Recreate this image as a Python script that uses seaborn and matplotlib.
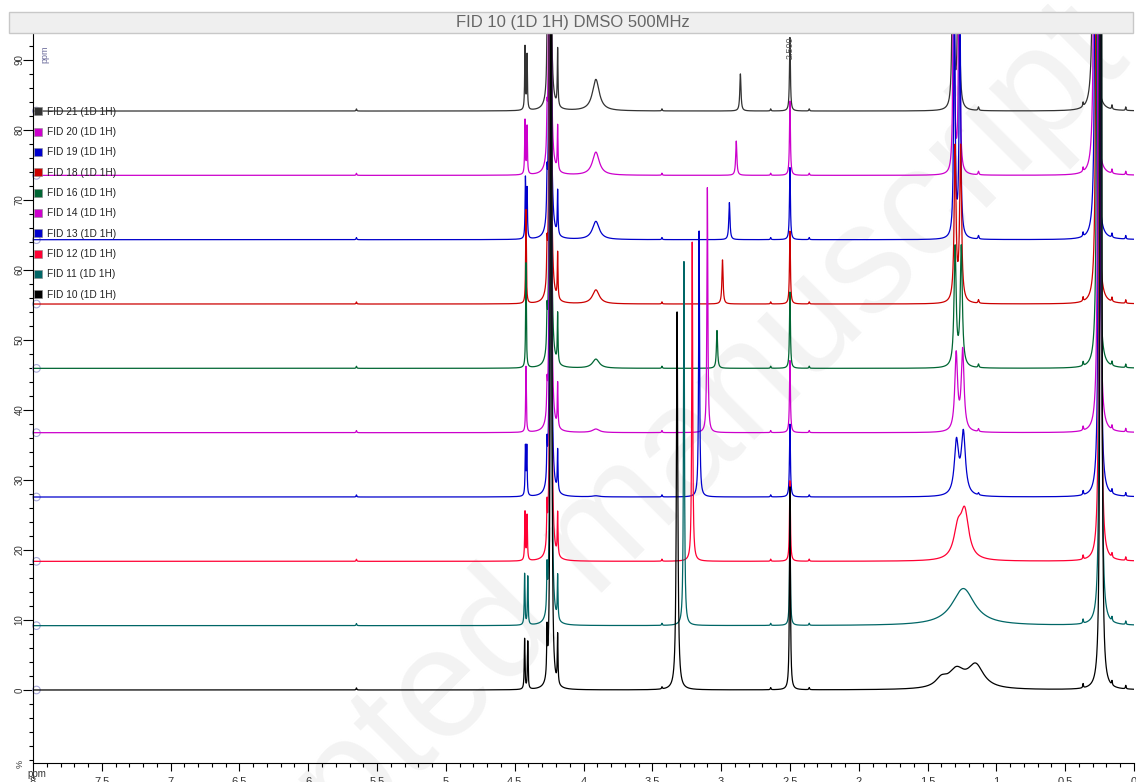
import numpy as np
import pandas as pd
import matplotlib
matplotlib.use('Agg')
import matplotlib.pyplot as plt
from matplotlib.lines import Line2D
from matplotlib.patches import Rectangle
from matplotlib.ticker import MultipleLocator, FixedLocator, FuncFormatter
import seaborn as sns

sns.set_style('ticks')
plt.rcParams['font.family'] = ['Liberation Sans', 'DejaVu Sans']

# spectra from bottom (FID 10) to top (FID 21)
names = ['FID 10 (1D 1H)', 'FID 11 (1D 1H)', 'FID 12 (1D 1H)', 'FID 13 (1D 1H)', 'FID 14 (1D 1H)',
         'FID 16 (1D 1H)', 'FID 18 (1D 1H)', 'FID 19 (1D 1H)', 'FID 20 (1D 1H)', 'FID 21 (1D 1H)']
colors = ['#000000', '#006666', '#ff0033', '#0000cc', '#cc00cc',
          '#006633', '#cc0000', '#0000cc', '#cc00cc', '#333333']
STACK = 9.19   # vertical offset between spectra (%)

# peak tables: position (ppm) and height (%) per spectrum
d1_ppm = [4.428, 4.428, 4.425, 4.422, 4.418, 4.418, 4.418, 4.422, 4.425, 4.425]
d1_h = [7.2, 7.3, 6.9, 6.9, 9.4, 15.0, 13.4, 8.6, 7.7, 9.0]
d2_ppm = [4.405, 4.405, 4.410, 4.412, 4.410, 4.410, 4.410, 4.410, 4.410, 4.410]
d2_h = [6.8, 6.9, 6.4, 6.9, 0.0, 0.0, 0.0, 7.0, 6.8, 7.8]
s_ppm = [4.265, 4.265, 4.265, 4.265, 4.265, 4.265, 4.265, 4.265, 4.265, 4.265]
s_h = [6.5, 6.0, 5.5, 5.0, 4.0, 5.0, 5.0, 5.5, 5.0, 5.9]
big_ppm = [4.236, 4.237, 4.238, 4.239, 4.240, 4.241, 4.242, 4.243, 4.244, 4.245]
big_h = [300, 300, 300, 300, 300, 300, 300, 300, 300, 300]
t_ppm = [4.188, 4.188, 4.188, 4.188, 4.188, 4.188, 4.188, 4.188, 4.188, 4.188]
t_h = [7.0, 6.3, 6.1, 5.9, 6.3, 7.1, 6.6, 6.3, 6.4, 8.2]
br_ppm = [3.91, 3.91, 3.91, 3.91, 3.91, 3.91, 3.91, 3.91, 3.91, 3.91]
br_h = [0.0, 0.0, 0.0, 0.15, 0.5, 1.3, 2.0, 2.6, 3.3, 4.5]
water_ppm = [3.32, 3.27, 3.21, 3.16, 3.10, 3.03, 2.99, 2.94, 2.89, 2.86]
water_h = [54.0, 52.0, 45.6, 38.0, 35.0, 5.4, 6.3, 5.3, 4.9, 5.3]
dmso_ppm = [2.50, 2.50, 2.50, 2.50, 2.50, 2.50, 2.50, 2.50, 2.50, 2.50]
dmso_h = [29.0, 13.0, 11.5, 10.4, 10.3, 10.9, 10.4, 10.3, 10.6, 10.5]
c1_ppm = [1.29, 1.28, 1.28, 1.29, 1.292, 1.30, 1.30, 1.305, 1.31, 1.315]
c1_h = [2.5, 0.0, 4.0, 7.5, 11.0, 17.0, 22.0, 35.0, 45.0, 50.0]
c2_ppm = [1.15, 1.24, 1.23, 1.24, 1.245, 1.255, 1.26, 1.265, 1.27, 1.275]
c2_h = [3.3, 5.3, 6.5, 8.8, 11.5, 17.0, 22.0, 35.0, 45.0, 50.0]
c3_ppm = [1.40, 1.40, 1.40, 1.40, 1.40, 1.40, 1.40, 1.40, 1.40, 1.40]
c3_h = [1.2, 0.0, 0.0, 0.0, 0.0, 0.0, 0.0, 0.0, 0.0, 0.0]
e_ppm = [1.13, 1.13, 1.13, 1.13, 1.13, 1.13, 1.13, 1.13, 1.13, 1.13]
e_h = [0.0, 0.0, 0.0, 0.3, 0.4, 0.5, 0.5, 0.5, 0.5, 0.5]
tms_ppm = [0.240, 0.243, 0.246, 0.250, 0.255, 0.262, 0.268, 0.275, 0.282, 0.288]
tms_h = [300, 300, 300, 300, 300, 300, 300, 300, 300, 300]
minor_ppm = [5.65, 3.43, 2.64, 2.36, 0.37, 0.16, 0.06]
minor_h = [0.3, 0.3, 0.3, 0.3, 0.6, 0.6, 0.5]

# line widths (hwhm, ppm)
c_w = [0.07, 0.10, 0.035, 0.018, 0.012, 0.009, 0.008, 0.006, 0.005, 0.005]
water_w = [0.006, 0.004, 0.004, 0.004, 0.004, 0.005, 0.005, 0.005, 0.005, 0.005]


def lorentz(x, pos, h, w):
    return h / (1 + ((x - pos) / w) ** 2)


grid = np.linspace(8.0, 0.0, 16001)
frames = []
for i, name in enumerate(names):
    peaks = [(d1_ppm[i], d1_h[i], 0.003), (d2_ppm[i], d2_h[i], 0.003),
             (s_ppm[i], s_h[i], 0.003), (big_ppm[i], big_h[i], 0.003),
             (t_ppm[i], t_h[i], 0.003), (br_ppm[i], br_h[i], 0.03),
             (water_ppm[i], water_h[i], water_w[i]), (dmso_ppm[i], dmso_h[i], 0.004),
             (c1_ppm[i], c1_h[i], c_w[i]), (c2_ppm[i], c2_h[i], c_w[i]),
             (c3_ppm[i], c3_h[i], 0.05), (e_ppm[i], e_h[i], 0.004),
             (tms_ppm[i], tms_h[i], 0.004)]
    peaks += [(p, h, 0.003) for p, h in zip(minor_ppm, minor_h)]
    y = np.zeros_like(grid)
    for p, h, w in peaks:
        if h > 0:
            y += lorentz(grid, p, h, w)
    frames.append(pd.DataFrame({'ppm': grid, 'intensity': y + i * STACK, 'spectrum': name}))
df = pd.concat(frames, ignore_index=True)

W, H = 1136, 782
fig = plt.figure(figsize=(W / 100, H / 100), dpi=100)
ax = fig.add_axes([33 / W, 1 - 763 / H, (1134 - 33) / W, (763 - 33) / H])
ax.set_facecolor('white')

# watermark
ax.text(0.52, 0.30, 'Accepted manuscript', transform=fig.transFigure, rotation=45,
        rotation_mode='anchor', ha='center', va='center', fontsize=112,
        color='#f3f3f3', zorder=0.5, clip_on=False)

sns.lineplot(data=df, x='ppm', y='intensity', hue='spectrum', hue_order=names[::-1],
             palette=dict(zip(names, colors)), estimator=None, sort=False,
             lw=0.9, legend=False, ax=ax)

ax.scatter([7.975] * len(names), [i * STACK for i in range(len(names))], s=30,
           facecolors='none', edgecolors='#a8a8d8', linewidths=0.8, zorder=1, clip_on=False)

ax.set_xlim(8.0, 0.0)
ax.set_ylim(-10.43, 93.86)
ax.set_xlabel('')
ax.set_ylabel('')
ax.xaxis.set_major_locator(MultipleLocator(0.5))
ax.xaxis.set_minor_locator(MultipleLocator(0.1))
ax.xaxis.set_major_formatter(FuncFormatter(lambda v, p: '%g' % round(v, 2)))
ax.yaxis.set_major_locator(FixedLocator(list(range(0, 100, 10))))
ax.yaxis.set_minor_locator(MultipleLocator(2))
ax.tick_params(axis='x', which='major', length=6, width=0.8, labelsize=8, pad=4,
               colors='black', labelcolor='#333333')
ax.tick_params(axis='x', which='minor', length=3, width=0.8, colors='black')
ax.tick_params(axis='y', which='major', length=7, width=0.8, labelsize=7, pad=-1,
               labelrotation=90, colors='black', labelcolor='#333333')
ax.tick_params(axis='y', which='minor', length=3, width=0.8, colors='black')
for lab in ax.get_yticklabels():
    lab.set_va('center')
sns.despine(ax=ax)
for sp in ['left', 'bottom']:
    ax.spines[sp].set_linewidth(0.8)
    ax.spines[sp].set_color('black')

# legend
handles = [Line2D([], [], ls='', marker='s', markersize=6, markerfacecolor=c,
                  markeredgecolor='#888888', markeredgewidth=0.4)
           for c in colors[::-1]]
leg = ax.legend(handles, names[::-1], loc='upper left', bbox_to_anchor=(0.002, 0.899),
                frameon=False, fontsize=7.3, handlelength=0.6, handletextpad=0.55,
                labelspacing=1.02, borderaxespad=0, borderpad=0)
for t in leg.get_texts():
    t.set_color('#222222')

# annotations
ax.text(2.5, 0.995, '2.500', transform=ax.get_xaxis_transform(), rotation=90,
        ha='center', va='top', fontsize=6.5, color='#555555')
ax.text(45 / W, 1 - 54 / H, 'ppm', transform=fig.transFigure, rotation=90,
        ha='center', va='center', fontsize=6.5, color='#6a6a9a')
fig.text(37 / W, 1 - 774 / H, 'ppm', ha='center', va='center', fontsize=7, color='#333333')
fig.text(20 / W, 1 - 764 / H, '%', rotation=90, ha='center', va='center', fontsize=6.5,
         color='#333333')

# title bar
fig.add_artist(Rectangle((9 / W, 1 - 33 / H), (1133 - 9) / W, 21 / H, transform=fig.transFigure,
                         facecolor='#efefef', edgecolor='#c8c8c8', lw=1))
fig.text(573 / W, 1 - 22.5 / H, 'FID 10 (1D 1H) DMSO 500MHz', ha='center', va='center',
         fontsize=12, color='#666666')

plt.savefig('out.png', dpi=100)
